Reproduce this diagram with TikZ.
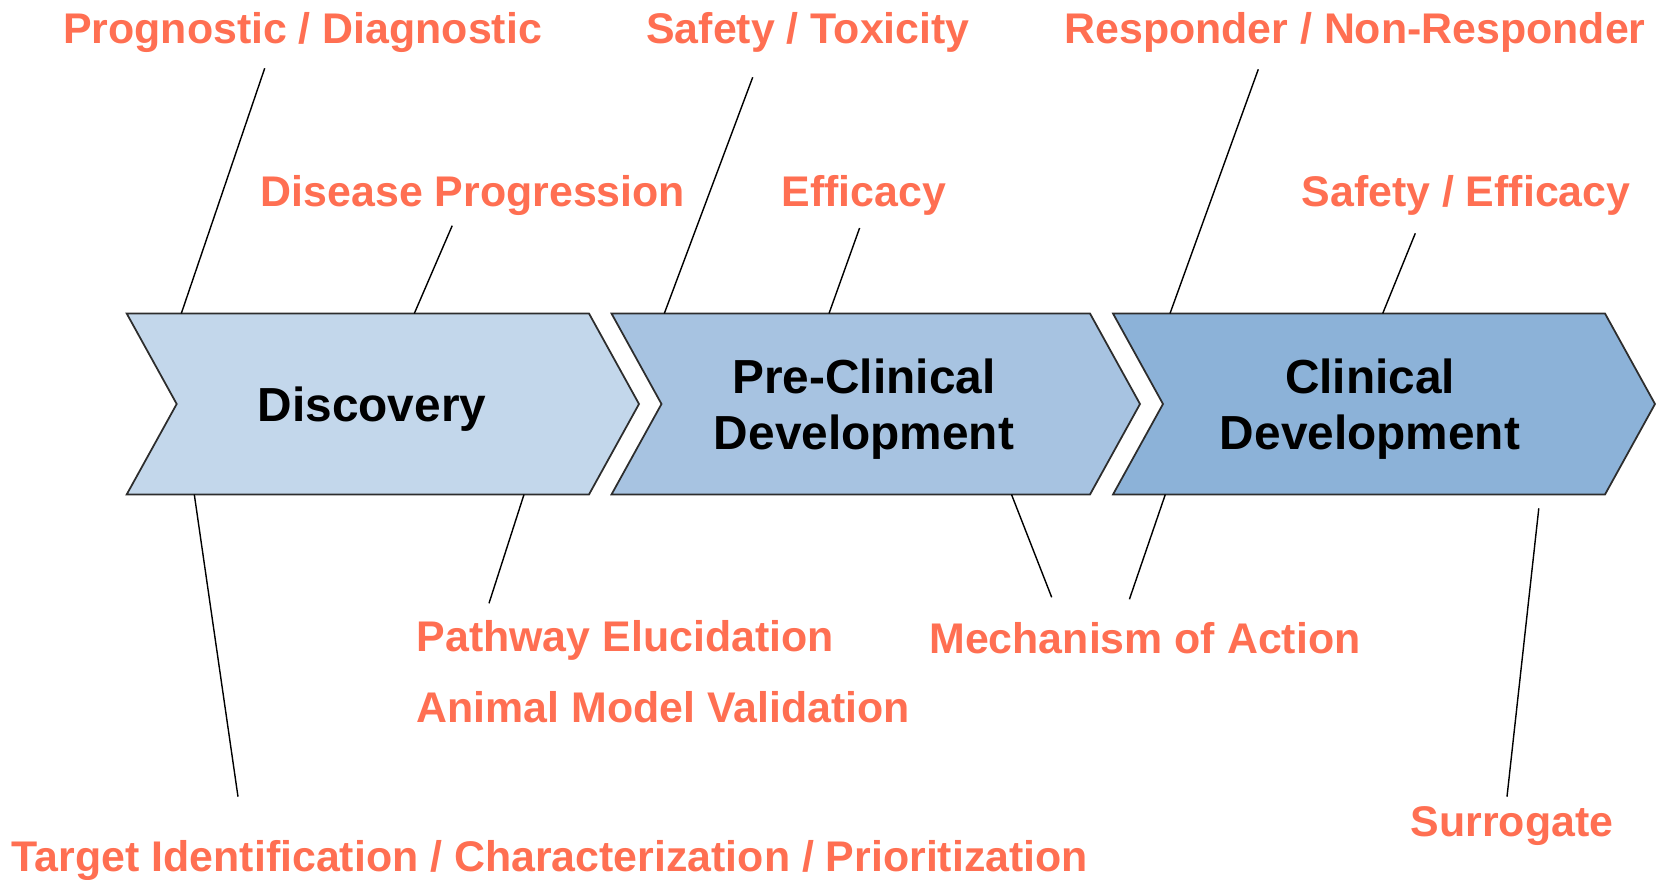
\documentclass[tikz,border=0pt]{standalone}
\usepackage{fontspec}
\setmainfont{Liberation Sans}
\usetikzlibrary{positioning}

\definecolor{labelorange}{RGB}{255,111,82}
\definecolor{discfill}{RGB}{195,215,235}
\definecolor{prefill}{RGB}{167,195,225}
\definecolor{clinfill}{RGB}{140,178,216}
\definecolor{edgegray}{RGB}{45,45,45}

\begin{document}
\begin{tikzpicture}[
    chevron/.style={draw=edgegray, line width=0.5pt, line join=miter},
    phase/.style={align=center, font=\fontsize{13.6}{16.1}\selectfont\bfseries, text=black},
    marker/.style={anchor=base, inner sep=0pt, font=\fontsize{12.2}{14}\selectfont\bfseries, text=labelorange},
    leader/.style={draw=black, line width=0.4pt}
]
    \useasboundingbox (0,0) rectangle (16.56,8.8);

    % the three stages
    \foreach \xl/\xr/\col in {1.267/5.89/discfill, 6.115/10.90/prefill, 11.13/16.05/clinfill}
        \draw[chevron, fill=\col] (\xl,5.665) -- (\xr,5.665) -- (\xr+0.5,4.76) -- (\xr,3.855)
            -- (\xl,3.855) -- (\xl+0.5,4.76) -- cycle;

    \node[phase] (disc) at (3.72,4.71) {Discovery};
    \node[phase] (pre) at (8.64,4.71) {Pre-Clinical\\Development};
    \node[phase] (clin) at (13.70,4.71) {Clinical\\Development};

    % biomarker uses
    \node[marker] (prog) at (3.026,8.367) {Prognostic / Diagnostic};
    \node[marker] (saftox) at (8.08,8.367) {Safety / Toxicity};
    \node[marker] (resp) at (13.55,8.367) {Responder / Non-Responder};
    \node[marker] (dis) at (4.73,6.733) {Disease Progression};
    \node[marker] (eff) at (8.64,6.733) {Efficacy};
    \node[marker] (safeff) at (14.66,6.733) {Safety / Efficacy};
    \node[marker, anchor=base west] (path) at (4.16,2.283) {Pathway Elucidation};
    \node[marker, anchor=base west] (animal) at (4.16,1.573) {Animal Model Validation};
    \node[marker] (mech) at (11.45,2.267) {Mechanism of Action};
    \node[marker] (surr) at (15.12,0.433) {Surrogate};
    \node[marker] (target) at (5.50,0.083) {Target Identification / Characterization / Prioritization};

    % leader lines
    \coordinate (prog-a) at (1.813,5.665);   \coordinate (prog-b) at (2.647,8.117);
    \coordinate (dis-a) at (4.143,5.665);    \coordinate (dis-b) at (4.522,6.543);
    \coordinate (saftox-a) at (6.643,5.665); \coordinate (saftox-b) at (7.527,8.027);
    \coordinate (eff-a) at (8.29,5.665);     \coordinate (eff-b) at (8.596,6.52);
    \coordinate (resp-a) at (11.70,5.665);   \coordinate (resp-b) at (12.583,8.107);
    \coordinate (safeff-a) at (13.827,5.665); \coordinate (safeff-b) at (14.153,6.467);
    \coordinate (target-a) at (1.943,3.855); \coordinate (target-b) at (2.38,0.833);
    \coordinate (path-a) at (5.24,3.855);    \coordinate (path-b) at (4.89,2.767);
    \coordinate (mech-a) at (10.115,3.855);  \coordinate (mech-b) at (10.517,2.827);
    \coordinate (mech-c) at (11.653,3.855);  \coordinate (mech-d) at (11.294,2.807);
    \coordinate (surr-a) at (15.388,3.717);  \coordinate (surr-b) at (15.07,0.833);

    \foreach \n in {prog,dis,saftox,eff,resp,safeff,target,path,mech,surr}
        \draw[leader] (\n-a) -- (\n-b);
    \draw[leader] (mech-c) -- (mech-d);
\end{tikzpicture}
\end{document}
